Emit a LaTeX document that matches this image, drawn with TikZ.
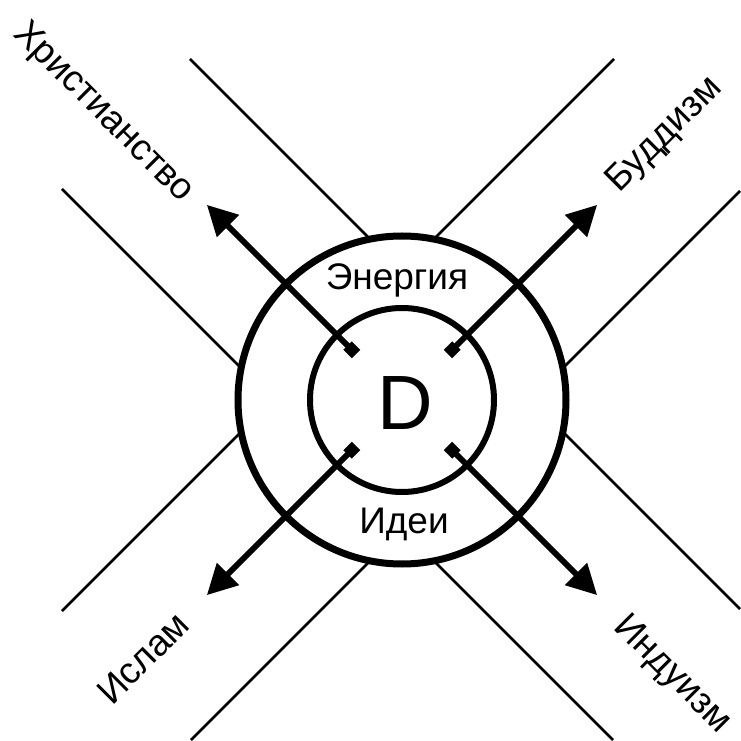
\documentclass[tikz,border=0pt]{standalone}
\usepackage{fontspec}
\setmainfont{Liberation Sans}
\usetikzlibrary{arrows.meta}
\tikzset{
  every node/.style={font=\fontsize{37}{40}\selectfont, inner sep=0pt},
  guide/.style={line width=2.8pt},
  ring/.style={draw, circle, fill=white, line width=7pt},
  ray/.style={line width=6pt, {Square[length=12pt,width=12pt]}-{Triangle[length=30pt,width=30pt]}},
  big/.style={font=\fontsize{77}{80}\selectfont},
}

\begin{document}
\begin{tikzpicture}[x=1pt,y=1pt]
  \useasboundingbox (-402,-341) rectangle (338,400);

  % two pairs of parallel lines
  \draw[guide] (-212,341) -- (338,-209);
  \draw[guide] (-340,211) -- (211,-340);
  \draw[guide] (-340,-211) -- (212,341);
  \draw[guide] (-211,-340) -- (338,209);

  % circles
  \node[ring, minimum size=328pt] (outer) at (0,0) {};
  \node[ring, line width=6pt, minimum size=184pt] (inner) at (0,0) {};

  \node[big, anchor=base] (dlet) at (3,-30) {D};
  \node[anchor=base] (energy) at (-5,110) {Энергия};
  \node[anchor=base] (ideas) at (2,-133) {Идеи};

  % rays
  \foreach \a in {45,135,225,315}
    \draw[ray] (\a:65) -- (\a:276);

  \node[rotate=-45] (xrist) at (-299,287) {Христианство};
  \node[rotate=45] (budd) at (263,265) {Буддизм};
  \node[rotate=45] (islam) at (-259,-258) {Ислам};
  \node[rotate=-45] (indu) at (270,-275) {Индуизм};
\end{tikzpicture}
\end{document}
